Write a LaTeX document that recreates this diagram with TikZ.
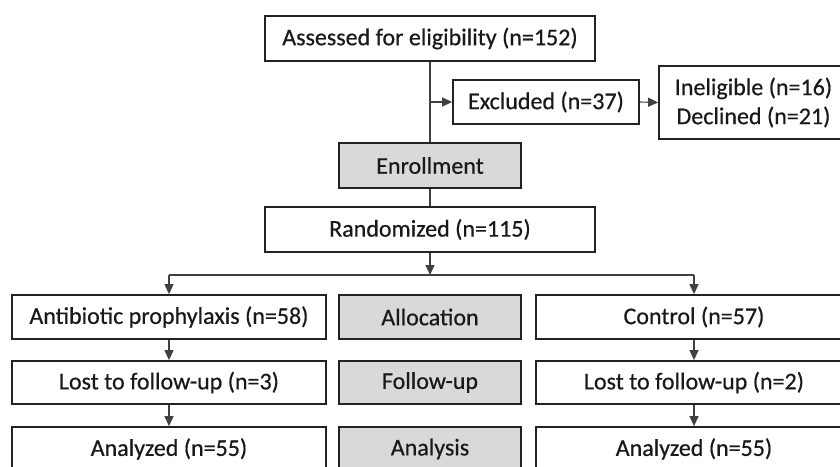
\documentclass[tikz,border=0pt]{standalone}
\usepackage{fontspec}
\setmainfont{Carlito}[FakeBold=0.5]
\usetikzlibrary{arrows.meta}
\definecolor{boxgray}{HTML}{D9D9D9}
\definecolor{linec}{HTML}{222222}
\definecolor{conc}{HTML}{404040}
\tikzset{
  box/.style={draw=linec, line width=1.8pt, fill=white, inner sep=0pt, align=center,
    font=\fontsize{24}{29}\selectfont, text=black!90},
  graybox/.style={box, fill=boxgray},
  con/.style={draw=conc, line width=1.1pt},
  arr/.style={con, -{Triangle[length=10pt,width=9pt]}}
}
\begin{document}
\begin{tikzpicture}[x=1pt,y=-1pt]
\useasboundingbox (0,0) rectangle (840,466);
\clip (0,0) rectangle (840,466);
% top
\node[box, minimum width=330pt, minimum height=45pt] (assess) at (430,38.5) {Assessed for eligibility (n=152)};
\node[box, minimum width=186pt, minimum height=44pt] (excl) at (546,102) {Excluded (n=37)};
\node[box, minimum width=189pt, minimum height=73pt] (inel) at (753.5,102.5) {Ineligible (n=16)\\Declined (n=21)};
\node[graybox, minimum width=182pt, minimum height=45pt] (enroll) at (430,165.5) {Enrollment};
\node[box, minimum width=330pt, minimum height=45pt] (rand) at (430,229.5) {Randomized (n=115)};
% rows
\node[box, minimum width=314pt, minimum height=44pt] (l1) at (169,317) {Antibiotic prophylaxis (n=58)};
\node[graybox, minimum width=182pt, minimum height=44pt] (m1) at (430,317) {Allocation};
\node[box, minimum width=316pt, minimum height=44pt] (r1) at (694,317) {Control (n=57)};
\node[box, minimum width=314pt, minimum height=43pt] (l2) at (169,382.5) {Lost to follow-up (n=3)};
\node[graybox, minimum width=182pt, minimum height=43pt] (m2) at (430,382.5) {Follow-up};
\node[box, minimum width=316pt, minimum height=43pt] (r2) at (694,382.5) {Lost to follow-up (n=2)};
\node[box, minimum width=314pt, minimum height=44pt] (l3) at (169,449) {Analyzed (n=55)};
\node[graybox, minimum width=182pt, minimum height=44pt] (m3) at (430,449) {Analysis};
\node[box, minimum width=316pt, minimum height=44pt] (r3) at (694,449) {Analyzed (n=55)};
% connectors
\coordinate (branch) at (assess.south |- excl.west);
\coordinate (split) at (430,275);
\coordinate (splitL) at (l1.north |- split);
\coordinate (splitR) at (r1.north |- split);
\draw[con] (assess.south) -- (enroll.north);
\draw[con] (enroll.south) -- (rand.north);
\draw[arr] (branch) -- (excl.west);
\draw[arr] (excl.east) -- (inel.west);
\draw[arr] (rand.south) -- (split);
\draw[con] (splitL) -- (splitR);
\draw[arr] (splitL) -- (l1.north);
\draw[arr] (splitR) -- (r1.north);
\draw[arr] (l1.south) -- (l2.north);
\draw[arr] (l2.south) -- (l3.north);
\draw[arr] (r1.south) -- (r2.north);
\draw[arr] (r2.south) -- (r3.north);
\end{tikzpicture}
\end{document}
